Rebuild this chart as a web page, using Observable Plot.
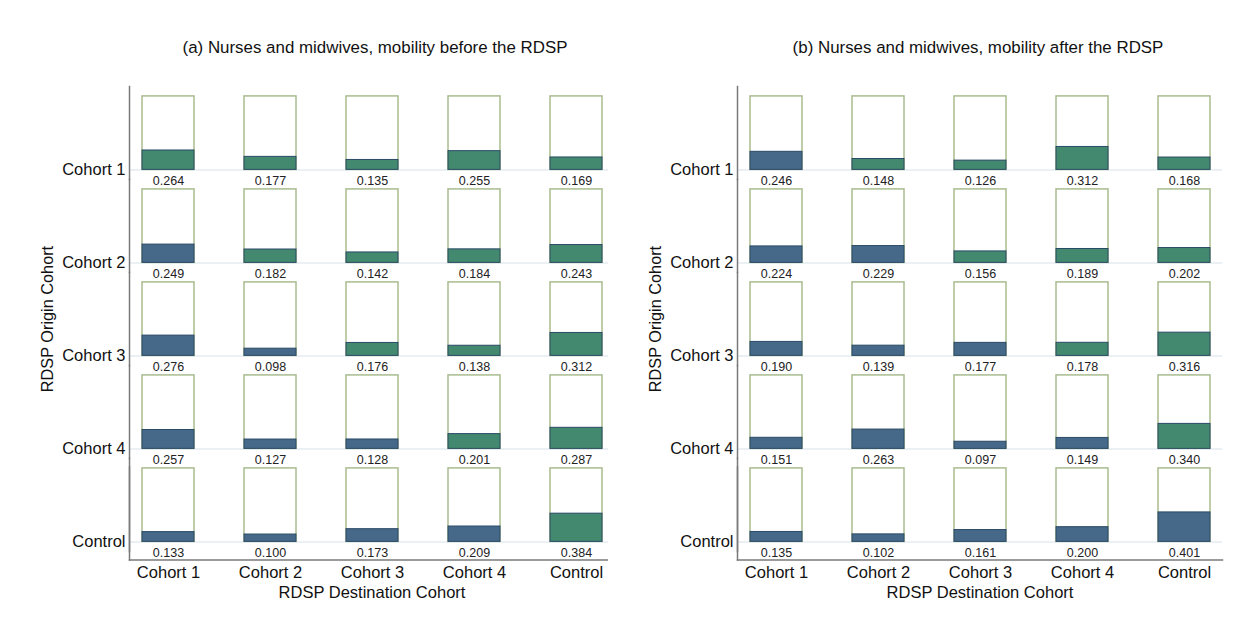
<!DOCTYPE html>
<html>
<head>
<meta charset="utf-8">
<script src="https://cdn.jsdelivr.net/npm/d3@7"></script>
<script src="https://cdn.jsdelivr.net/npm/@observablehq/plot@0.6"></script>
<style>
  body { margin: 0; background: #fff; font-family: "Liberation Sans", Arial, sans-serif; }
  .panel { position: absolute; top: 0; width: 620px; height: 631px; }
  .title { position: absolute; top: 38px; width: 600px; text-align: center; font-size: 16.9px; line-height: 20px; color: #111; white-space: nowrap; }
  .plot { position: absolute; top: 70px; left: 0; }
</style>
</head>
<body>
<div class="panel" style="left:0px">
  <div class="title" style="left:75px">(a) Nurses and midwives, mobility before the RDSP</div>
  <div class="plot" id="plot-a"></div>
</div>
<div class="panel" style="left:608px">
  <div class="title" style="left:70px">(b) Nurses and midwives, mobility after the RDSP</div>
  <div class="plot" id="plot-b"></div>
</div>
<script>
const origins = ["Cohort 1", "Cohort 2", "Cohort 3", "Cohort 4", "Control"];
const destinations = ["Cohort 1", "Cohort 2", "Cohort 3", "Cohort 4", "Control"];

// share moving from origin (row) to destination (column)
const valuesBefore = [
    [0.264, 0.177, 0.135, 0.255, 0.169],
    [0.249, 0.182, 0.142, 0.184, 0.243],
    [0.276, 0.098, 0.176, 0.138, 0.312],
    [0.257, 0.127, 0.128, 0.201, 0.287],
    [0.133, 0.100, 0.173, 0.209, 0.384],
];
const valuesAfter = [
    [0.246, 0.148, 0.126, 0.312, 0.168],
    [0.224, 0.229, 0.156, 0.189, 0.202],
    [0.190, 0.139, 0.177, 0.178, 0.316],
    [0.151, 0.263, 0.097, 0.149, 0.340],
    [0.135, 0.102, 0.161, 0.200, 0.401],
];

// bar shading: "b" = blue, "g" = green
const shadeBefore = [
    ["g", "g", "g", "g", "g"],
    ["b", "g", "g", "g", "g"],
    ["b", "b", "g", "g", "g"],
    ["b", "b", "b", "g", "g"],
    ["b", "b", "b", "b", "g"],
];
const shadeAfter = [
    ["b", "g", "g", "g", "g"],
    ["b", "b", "g", "g", "g"],
    ["b", "b", "b", "g", "g"],
    ["b", "b", "b", "b", "g"],
    ["b", "b", "b", "b", "b"],
];

const fullShare = 1;

function drawPanel(values, shade, id) {
    const cells = origins.flatMap((o, i) =>
        destinations.map((d, j) => ({ origin: o, dest: d, value: values[i][j], shade: shade[i][j] }))
    );
    const axisColor = "#7a7a7a";
    const chart = Plot.plot({
        width: 620,
        height: 545,
        marginLeft: 129,
        marginRight: 6,
        marginTop: 14,
        marginBottom: 62.5,
        style: { fontFamily: "Liberation Sans, Arial, sans-serif", fontSize: "16.5px", color: "#111", background: "white" },
        x: { domain: destinations, paddingInner: 0.493, paddingOuter: 0.107, axis: null },
        y: { domain: [-0.131, 1.135], axis: null },
        fy: { domain: origins, padding: 0, axis: null },
        color: { domain: ["b", "g"], range: ["#466889", "#43896f"] },
        marks: [
            Plot.ruleY([0], { stroke: "#e3ebef", strokeWidth: 1.5 }),
            Plot.frame({ anchor: "left", stroke: axisColor, strokeWidth: 1.5 }),
            Plot.frame({ anchor: "left", facetAnchor: "bottom", dy: 8.5, stroke: axisColor, strokeWidth: 1.5 }),
            Plot.frame({ anchor: "bottom", facetAnchor: "bottom", dy: 8.5, stroke: axisColor, strokeWidth: 1.5 }),
            Plot.barY(cells, { x: "dest", fy: "origin", y: () => fullShare, fill: "white", stroke: "#a9bc8e", strokeWidth: 1.5 }),
            Plot.barY(cells, { x: "dest", fy: "origin", y: "value", fill: "shade", stroke: "#2b4a66", strokeWidth: 1 }),
            Plot.text(cells, {
                x: "dest",
                fy: "origin",
                y: () => 0,
                text: (d) => d.value.toFixed(3),
                dy: 11,
                fontSize: 12.5,
                fill: "#222",
            }),
            Plot.axisFy({ anchor: "left", tickSize: 0, tickPadding: 4, dy: 37, label: null, fontSize: 16.5 }),
            Plot.axisFy({
                anchor: "left",
                tickSize: 0,
                tickFormat: () => "",
                label: "RDSP Origin Cohort",
                labelAnchor: "center",
                labelOffset: 88,
                fontSize: 16.3,
            }),
            Plot.axisX({
                tickSize: 0,
                tickPadding: 15,
                label: "RDSP Destination Cohort",
                labelAnchor: "center",
                labelOffset: 46,
                fontSize: 16.5,
            }),
        ],
    });
    document.getElementById(id).appendChild(chart);
}

drawPanel(valuesBefore, shadeBefore, "plot-a");
drawPanel(valuesAfter, shadeAfter, "plot-b");
</script>
</body>
</html>
